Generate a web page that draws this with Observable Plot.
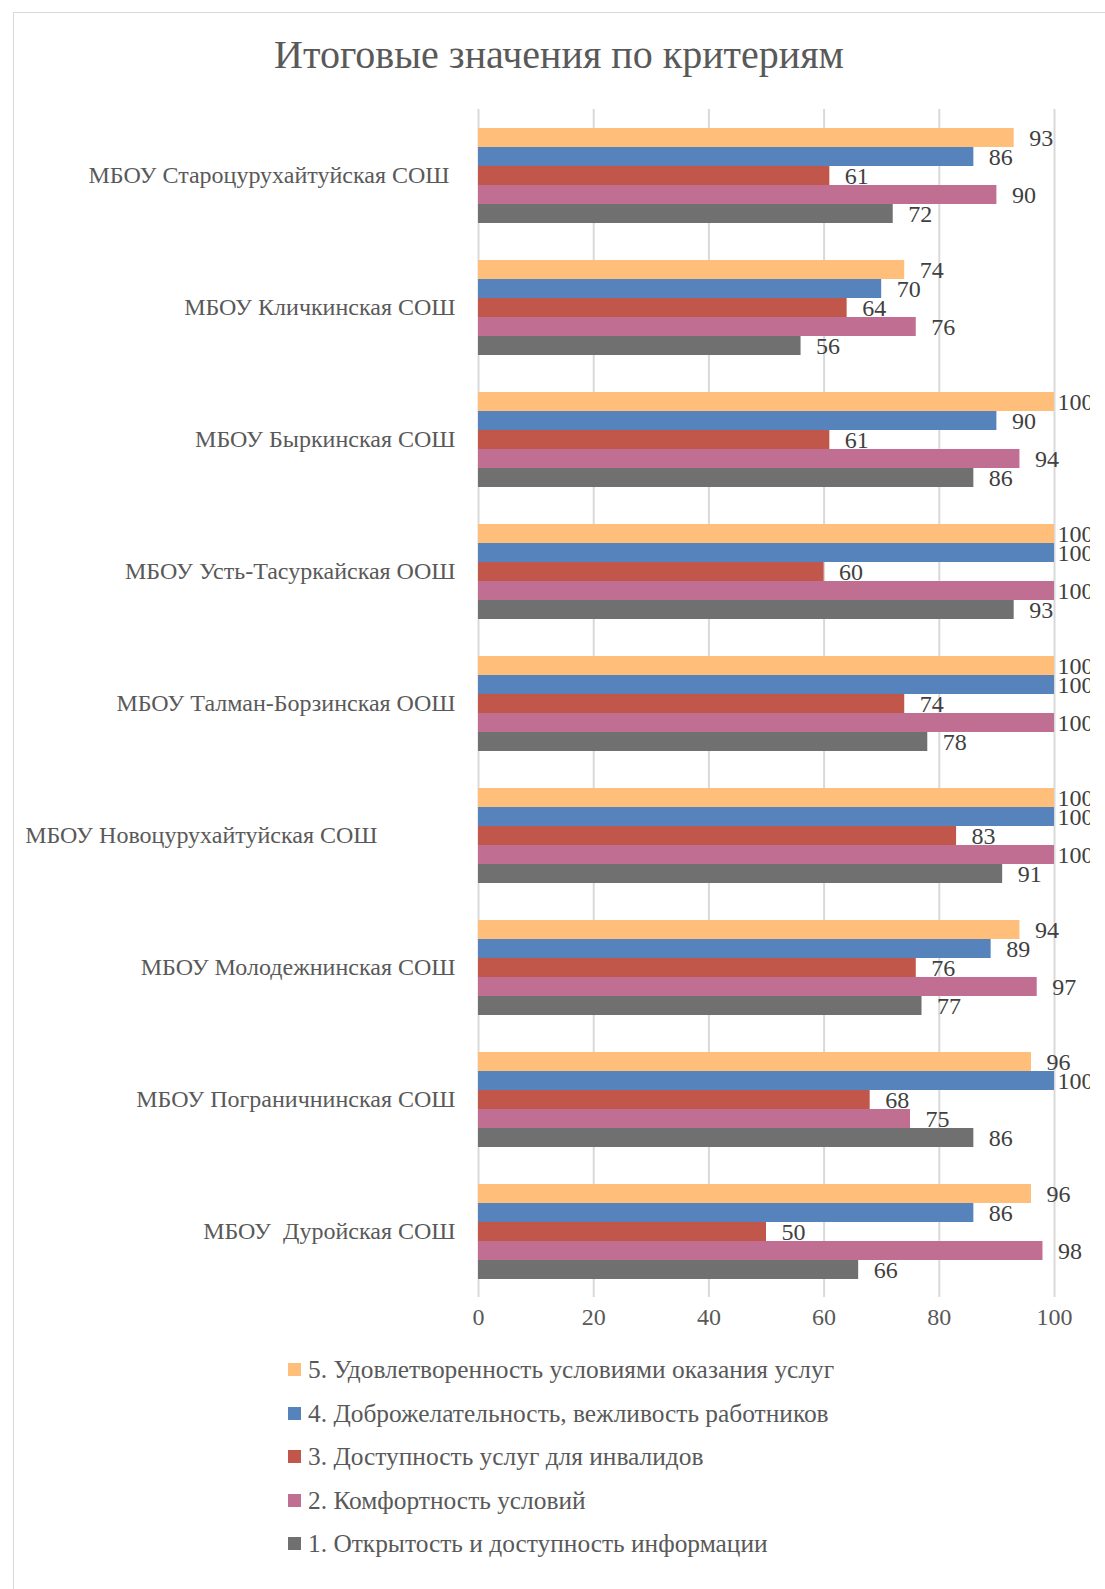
<!DOCTYPE html>
<html>
<head>
<meta charset="utf-8">
<script src="https://cdn.jsdelivr.net/npm/d3@7"></script>
<script src="https://cdn.jsdelivr.net/npm/@observablehq/plot@0.6"></script>
<style>
  html, body { margin: 0; padding: 0; background: #fff; overflow: hidden; width: 1105px; height: 1589px; }
  body { position: relative; font-family: "Liberation Serif", "DejaVu Serif", serif; }
  #frame { position: absolute; left: 13px; top: 12px; width: 1092px; height: 1577px; border-left: 1px solid #d9d9d9; border-top: 1px solid #d9d9d9; box-sizing: border-box; }
  #title { position: absolute; left: 13px; width: 1092px; top: 31px; text-align: center; font-size: 40px; color: #595959; line-height: 48px; }
  #chart { position: absolute; left: 0; top: 80px; width: 1090px; height: 1262px; overflow: hidden; }
  #chart svg { max-width: none; width: 1105px; }
  #chart svg text { white-space: pre; }
  #legend { position: absolute; left: 288px; top: 1348px; }
  .li { display: flex; align-items: center; height: 43.5px; font-size: 25.4px; color: #595959; white-space: nowrap; }
  .sw { width: 13px; height: 13px; margin-right: 7px; }
</style>
</head>
<body>
<div id="frame"></div>
<div id="title">Итоговые значения по критериям</div>
<div id="chart"></div>
<div id="legend"></div>
<script>
const schools = [
  "МБОУ Староцурухайтуйская СОШ ",
  "МБОУ Кличкинская СОШ",
  "МБОУ Быркинская СОШ",
  "МБОУ Усть-Тасуркайская ООШ",
  "МБОУ Талман-Борзинская ООШ",
  "МБОУ Новоцурухайтуйская СОШ             ",
  "МБОУ Молодежнинская СОШ",
  "МБОУ Пограничнинская СОШ",
  "МБОУ  Дуройская СОШ"
];
const seriesNames = [
  "5. Удовлетворенность условиями оказания услуг",
  "4. Доброжелательность, вежливость работников",
  "3. Доступность услуг для инвалидов",
  "2. Комфортность условий",
  "1. Открытость и доступность информации"
];
const seriesColors = ["#FFBE7A", "#5683BC", "#C0574A", "#C06E92", "#707070"];
// values per series, in school order
const s5 = [93, 74, 100, 100, 100, 100, 94, 96, 96];
const s4 = [86, 70, 90, 100, 100, 100, 89, 100, 86];
const s3 = [61, 64, 61, 60, 74, 83, 76, 68, 50];
const s2 = [90, 76, 94, 100, 100, 100, 97, 75, 98];
const s1 = [72, 56, 86, 93, 78, 91, 77, 86, 66];
const xTicks = [0, 20, 40, 60, 80, 100];

const seriesValues = [s5, s4, s3, s2, s1];
const rows = [];
schools.forEach((school, i) => {
  seriesNames.forEach((s, j) => rows.push({school, series: s, value: seriesValues[j][i]}));
});

const font = '"Liberation Serif", "DejaVu Serif", serif';
const chart = Plot.plot({
  width: 1105,
  height: 1262,
  marginTop: 28,
  marginBottom: 44,
  marginLeft: 478,
  marginRight: 51,
  style: {fontFamily: font, fontSize: "24px", color: "#595959", background: "transparent", overflow: "hidden"},
  facet: {data: rows, y: "school"},
  fy: {domain: schools, label: null, padding: 0, axis: "left", tickSize: 0, tickPadding: 23},
  y: {domain: seriesNames, axis: null, paddingInner: 0, paddingOuter: 0.9},
  x: {domain: [0, 100], ticks: xTicks, grid: true, label: null, tickSize: 0, tickPadding: 10},
  color: {domain: seriesNames, range: seriesColors},
  marks: [
    Plot.barX(rows, {x: "value", y: "series", fill: "series"}),
    Plot.text(rows, {filter: d => d.value < 100, x: "value", y: "series", text: d => String(d.value), textAnchor: "start", dx: 15, fill: "#404040", fontSize: 24}),
    Plot.text(rows, {filter: d => d.value >= 100, x: "value", y: "series", text: d => String(d.value), textAnchor: "start", dx: 3, fill: "#404040", fontSize: 24})
  ]
});
document.getElementById("chart").appendChild(chart);
chart.querySelectorAll("g[aria-label='x-grid'] line").forEach(l => { l.setAttribute("stroke", "#d9d9d9"); l.setAttribute("stroke-opacity", "1"); l.setAttribute("stroke-width", "2"); });

const legend = document.getElementById("legend");
seriesNames.forEach((s, i) => {
  const d = document.createElement("div");
  d.className = "li";
  d.innerHTML = `<span class="sw" style="background:${seriesColors[i]}"></span><span>${s}</span>`;
  legend.appendChild(d);
});
</script>
</body>
</html>
